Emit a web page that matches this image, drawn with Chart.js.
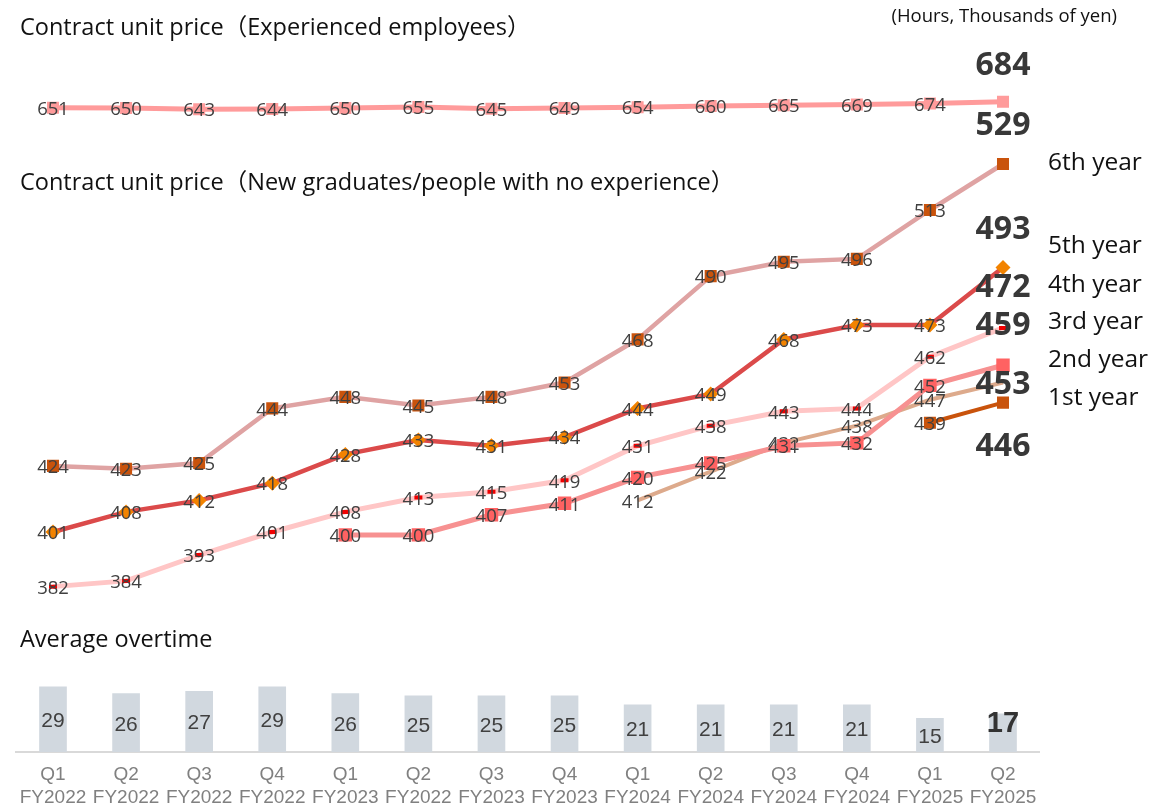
<!DOCTYPE html>
<html>
<head>
<meta charset="utf-8">
<script src="https://cdn.jsdelivr.net/npm/chart.js@4.4.1/dist/chart.umd.min.js"></script>
<style>
  html, body { margin: 0; padding: 0; width: 1170px; height: 807px; overflow: hidden; background: #fff; }
  #wrap { position: relative; width: 1170px; height: 821px; }
  canvas { display: block; }
</style>
</head>
<body>
<div id="wrap"><canvas id="chart" width="1170" height="821"></canvas></div>
<script>
// ---- data ----
const quarters = [
  ['Q1', 'FY2022'], ['Q2', 'FY2022'], ['Q3', 'FY2022'], ['Q4', 'FY2022'],
  ['Q1', 'FY2023'], ['Q2', 'FY2022'], ['Q3', 'FY2023'], ['Q4', 'FY2023'],
  ['Q1', 'FY2024'], ['Q2', 'FY2024'], ['Q3', 'FY2024'], ['Q4', 'FY2024'],
  ['Q1', 'FY2025'], ['Q2', 'FY2025']
];
const experienced = [651, 650, 643, 644, 650, 655, 645, 649, 654, 660, 665, 669, 674, 684];
const year6 = [424, 423, 425, 444, 448, 445, 448, 453, 468, 490, 495, 496, 513, 529];
const year5 = [401, 408, 412, 418, 428, 433, 431, 434, 444, 449, 468, 473, 473, 493];
const year4 = [382, 384, 393, 401, 408, 413, 415, 419, 431, 438, 443, 444, 462, 472];
const year3 = [null, null, null, null, 400, 400, 407, 411, 420, 425, 431, 432, 452, 459];
const year2 = [null, null, null, null, null, null, null, null, 412, 422, 432, 438, 447, 453];
const year1 = [null, null, null, null, null, null, null, null, null, null, null, null, 439, 446];
const overtime = [29, 26, 27, 29, 26, 25, 25, 25, 21, 21, 21, 21, 15, 17];
const seriesNames = ['6th year', '5th year', '4th year', '3rd year', '2nd year', '1st year'];

// ---- styling ----
const FONT_UI = '"Open Sans", "Noto Sans CJK JP", sans-serif';
const FONT_AR = '"Liberation Sans", Arial, sans-serif';
const LABEL_COLOR = '#404040';

// vertical shift of the bold closing-value label, per line dataset (px)
const endLabelShift = [-36, -38, -38, -40, -39, 2, 44];
// vertical centre of each series name on the right
const seriesNameY = [163, 246, 285, 322, 360, 398];

function lineSet(label, data, line, pointStyle, pointColor, radius, width, pointBorder) {
  return {
    type: 'line', label, data, yAxisID: label === 'Experienced employees' ? 'yExp' : 'yNew',
    borderColor: line, borderWidth: width, tension: 0,
    pointStyle, pointRadius: radius, pointHoverRadius: radius,
    pointBackgroundColor: pointColor, pointBorderColor: pointColor,
    pointBorderWidth: pointBorder, spanGaps: false
  };
}

const datasets = [
  lineSet('Experienced employees', experienced, '#FF9B9B', 'rect', '#FF9B9B', 8.5, 5, 0),
  lineSet(seriesNames[0], year6, '#DFA3A3', 'rect', '#C9530C', 8.5, 4.5, 0),
  lineSet(seriesNames[1], year5, '#DB4A4A', 'rectRot', '#F28300', 7.5, 4.5, 0),
  lineSet(seriesNames[2], year4, '#FFC6C6', 'line', '#F00000', 4, 5, 4),
  lineSet(seriesNames[3], year3, '#F79191', 'rect', '#FF6262', 9.5, 5, 0),
  lineSet(seriesNames[4], year2, '#DDAA8C', 'circle', '#DDAA8C', 0, 4, 0),
  lineSet(seriesNames[5], year1, '#C9530C', 'rect', '#C9530C', 8.5, 4, 0),
  {
    type: 'bar', label: 'Average overtime', data: overtime, yAxisID: 'yBar',
    backgroundColor: '#D1D8DF', barThickness: 27
  }
];

// text drawn on top of the plot: value labels, section titles, series names
const textLayer = {
  id: 'textLayer',
  afterDatasetDraw(chart, args) {
    const ds = chart.data.datasets[args.index];
    if (ds.type !== 'line') return;
    const ctx = chart.ctx;
    const meta = args.meta;
    const last = ds.data.length - 1;
    ctx.save();
    ctx.font = '18.5px ' + FONT_UI;
    ctx.fillStyle = LABEL_COLOR;
    ctx.textAlign = 'center';
    ctx.textBaseline = 'middle';
    meta.data.forEach((pt, i) => {
      if (ds.data[i] == null || i === last) return;
      ctx.fillText(String(ds.data[i]), pt.x, pt.y + 2);
    });
    ctx.restore();
  },
  afterDatasetsDraw(chart) {
    const ctx = chart.ctx;
    ctx.save();
    ctx.textAlign = 'center';
    ctx.textBaseline = 'middle';

    // closing values in bold
    let li = 0;
    chart.data.datasets.forEach((ds, di) => {
      if (ds.type !== 'line') return;
      const meta = chart.getDatasetMeta(di);
      const last = ds.data.length - 1;
      const pt = meta.data[last];
      ctx.font = 'bold 32px ' + FONT_UI;
      ctx.fillStyle = '#383838';
      ctx.fillText(String(ds.data[last]), pt.x, pt.y + endLabelShift[li]);
      li++;
    });

    // overtime values inside the bars
    const barIndex = chart.data.datasets.findIndex(d => d.type === 'bar');
    const barMeta = chart.getDatasetMeta(barIndex);
    const bars = chart.data.datasets[barIndex].data;
    barMeta.data.forEach((bar, i) => {
      const mid = (bar.y + bar.base) / 2;
      if (i === bars.length - 1) {
        ctx.font = 'bold 29px ' + FONT_AR;
        ctx.fillStyle = '#333333';
        ctx.fillText(String(bars[i]), bar.x, mid - 9);
      } else {
        ctx.font = '21px ' + FONT_AR;
        ctx.fillStyle = LABEL_COLOR;
        ctx.fillText(String(bars[i]), bar.x, mid + 2);
      }
    });

    // section titles and unit note
    ctx.textAlign = 'left';
    ctx.fillStyle = '#111111';
    ctx.font = '23.5px ' + FONT_UI;
    ctx.fillText('Contract unit price（Experienced employees）', 20, 28);
    ctx.fillText('Contract unit price（New graduates/people with no experience）', 20, 183);
    ctx.fillText('Average overtime', 20, 640);
    ctx.font = '18.5px ' + FONT_UI;
    ctx.textAlign = 'right';
    ctx.fillText('(Hours, Thousands of yen)', 1117, 17);

    // series names on the right
    ctx.textAlign = 'left';
    ctx.font = '24.5px ' + FONT_UI;
    seriesNames.forEach((name, i) => ctx.fillText(name, 1048, seriesNameY[i]));
    ctx.restore();
  }
};

new Chart(document.getElementById('chart'), {
  type: 'bar',
  data: { labels: quarters, datasets },
  options: {
    responsive: false,
    animation: false,
    devicePixelRatio: 1,
    layout: { padding: { left: 16.46, right: 130.46, top: 0, bottom: 0 } },
    plugins: { legend: { display: false }, tooltip: { enabled: false } },
    scales: {
      x: {
        grid: { display: false, drawTicks: false },
        border: { display: true, color: '#D9D9D9', width: 2 },
        ticks: {
          color: '#808080', autoSkip: false, maxRotation: 0, padding: 11.5,
          font: { family: FONT_AR, size: 19, lineHeight: 23 / 19 }
        }
      },
      yExp: { display: false, min: -2889, max: 1190.6 },
      yNew: { display: false, min: 324.48, max: 582.74 },
      yBar: { display: false, min: 0, max: 330 }
    }
  },
  plugins: [textLayer]
});
</script>
</body>
</html>
